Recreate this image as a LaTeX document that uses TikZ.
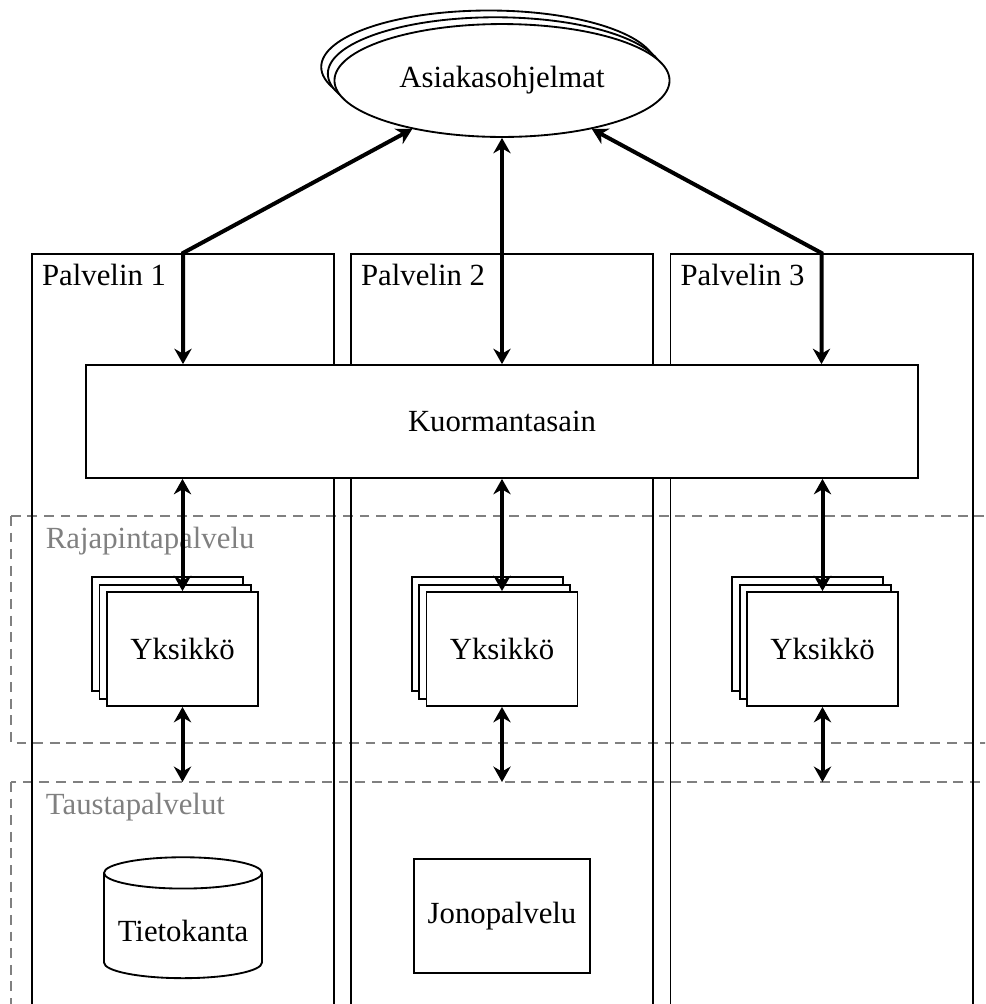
\documentclass[tikz,border=0pt]{standalone}
\usepackage{fontspec}
\setmainfont{Liberation Serif}
\usetikzlibrary{arrows.meta,shapes.geometric,shadows}

\begin{document}
\begin{tikzpicture}[x=0.325pt,y=-0.325pt,
  line width=0.6pt,
  server/.style={draw,anchor=north,inner sep=0pt,
    minimum width=98.2pt,minimum height=260pt},
  plainbox/.style={draw,fill=white,inner sep=0pt},
  stackbox/.style={plainbox,minimum width=49.1pt,minimum height=37.05pt,
    double copy shadow={shadow xshift=-2.4pt,shadow yshift=2.4pt}},
  zone/.style={draw=gray,line width=0.45pt,dash pattern=on 3.2pt off 2.2pt},
  zonelabel/.style={text=gray,anchor=base west,inner sep=0pt},
  corner/.style={anchor=north west,inner sep=3.3pt},
  tip/.tip={Stealth[length=5pt,width=5.6pt,inset=1.6pt]},
  link/.style={tip-tip,line width=1.3pt},
]
\useasboundingbox (0,0) rectangle (985,1004);
\clip (0,0) rectangle (985,1004);

% layer zones
\coordinate (api) at (11,516);
\coordinate (back) at (11,782);
\draw[zone] (api) rectangle (1010,743);
\draw[zone] (back) rectangle (1010,1040);

% servers
\node[server] (s1) at (183,253) {};
\node[server] (s2) at (502,253) {};
\node[server] (s3) at (821.5,253) {};
\node[corner] (l1) at (s1.north west) {Palvelin 1};
\node[corner] (l2) at (s2.north west) {Palvelin 2};
\node[corner] (l3) at (s3.north west) {Palvelin 3};

% load balancer
\node[plainbox,minimum width=270.4pt,minimum height=36.7pt] (lb) at (502,421.5) {Kuormantasain};

% clients
\node[ellipse,plainbox,minimum width=108.9pt,minimum height=36.7pt,
  double copy shadow={shadow xshift=-2.15pt,shadow yshift=2.2pt}] (cl) at (502,80.5) {Asiakasohjelmat};

% zone labels
\node[zonelabel] (zl1) at (45,548) {Rajapintapalvelu};
\node[zonelabel] (zl2) at (45,814) {Taustapalvelut};

% units
\node[stackbox] (u1) at (182.5,649) {Yksikkö};
\node[stackbox] (u2) at (502,649) {Yksikkö};
\node[stackbox] (u3) at (822.5,649) {Yksikkö};

% back-end services
\node[cylinder,shape border rotate=90,draw,aspect=0.24,inner sep=0pt,
  text height=10.1pt,
  minimum width=51.35pt,minimum height=39.3pt] (db) at (183,926) {Tietokanta};
\node[plainbox,minimum width=57.2pt,minimum height=37.05pt] (mq) at (502,916) {Jonopalvelu};

% connections
\draw[link] (lb.north -| s1) -- (s1.north) -- (cl);
\draw[link] (lb.north -| s2) -- (cl);
\draw[link] (lb.north -| s3) -- (s3.north) -- (cl);
\foreach \i in {1,2,3}{
  \draw[link] (lb.south -| u\i) -- (u\i.north);
  \draw[link] (u\i.south) -- (u\i.south |- back);
}
\end{tikzpicture}
\end{document}
